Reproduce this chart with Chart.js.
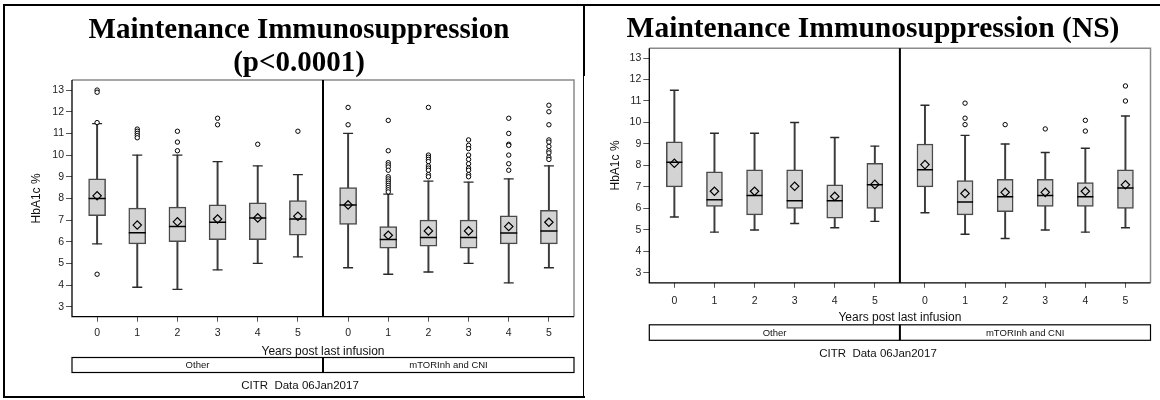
<!DOCTYPE html>
<html><head><meta charset="utf-8">
<script src="https://cdn.jsdelivr.net/npm/chart.js@4.4.1/dist/chart.umd.min.js"></script>
<style>
html,body{margin:0;padding:0;background:#fff;}
#wrap{position:relative;width:1160px;height:400px;overflow:hidden;background:#fff;}
#c1{position:absolute;left:0;top:0;}
#c2{position:absolute;left:587px;top:0;}
.ln{position:absolute;background:#000;}
</style></head><body>
<div id="wrap">
<canvas id="c1" width="584" height="400"></canvas>
<canvas id="c2" width="573" height="400"></canvas>
<div class="ln" style="left:3px;top:4px;width:1157px;height:2px"></div>
<div class="ln" style="left:3px;top:4px;width:2px;height:394px"></div>
<div class="ln" style="left:3px;top:396px;width:582px;height:2px"></div>
<div class="ln" style="left:583px;top:4px;width:2px;height:72px"></div>
<div class="ln" style="left:583px;top:76px;width:1px;height:322px"></div>
</div>
<script>
// ---------- data ----------
const years = ['0', '1', '2', '3', '4', '5'];
const treatments = ['Other', 'mTORInh and CNI'];
const yTickValues = [3, 4, 5, 6, 7, 8, 9, 10, 11, 12, 13];
const titleLeft = ['Maintenance Immunosuppression', '(p<0.0001)'];
const titleRight = ['Maintenance Immunosuppression (NS)'];
const xAxisLabel = 'Years post last infusion';
const yAxisLabel = 'HbA1c %';
const footnote = 'CITR  Data 06Jan2017';

// left panel: 6 x "Other" then 6 x "mTORInh and CNI"
const leftWhiskerLow  = [5.9, 3.9, 3.8, 4.7, 5.0, 5.3,   4.8, 4.5, 4.6, 5.0, 4.1, 4.8];
const leftQ1          = [7.2, 5.9, 6.0, 6.1, 6.1, 6.3,   6.8, 5.7, 5.8, 5.7, 5.9, 5.9];
const leftMedian      = [8.0, 6.42, 6.7, 6.9, 7.1, 7.05, 7.7, 6.1, 6.2, 6.2, 6.4, 6.5];
const leftQ3          = [8.9, 7.55, 7.6, 7.7, 7.8, 7.9,  8.5, 6.7, 7.0, 7.0, 7.2, 7.45];
const leftWhiskerHigh = [11.45, 10.0, 10.0, 9.7, 9.5, 9.1, 11.0, 8.2, 8.8, 8.75, 8.9, 9.5];
const leftMean        = [8.12, 6.77, 6.92, 7.05, 7.1, 7.18, 7.7, 6.3, 6.5, 6.5, 6.7, 6.9];
const leftOutliers = [
  [13.0, 12.9, 11.5, 4.5], [11.2, 11.1, 11.0, 10.9, 10.8], [11.1, 10.6, 10.2], [11.7, 11.4], [10.5], [11.1],
  [12.2, 11.4],
  [11.6, 10.2, 9.65, 9.55, 9.45, 9.3, 9.0, 8.9, 8.8, 8.7, 8.6, 8.5, 8.4, 8.3],
  [12.2, 10.0, 9.9, 9.8, 9.7, 9.5, 9.4, 9.3, 9.1, 9.0],
  [10.7, 10.45, 10.3, 10.0, 9.8, 9.6, 9.4, 9.3, 9.1, 9.0],
  [11.7, 11.0, 10.5, 10.45, 10.0, 9.6, 9.3],
  [12.3, 12.0, 11.4, 10.7, 10.6, 10.4, 10.2, 10.1, 9.9, 9.8]
];

// right panel
const rightWhiskerLow  = [5.6, 4.9, 5.0, 5.3, 5.1, 5.4,   5.8, 4.8, 4.6, 5.0, 4.9, 5.1];
const rightQ1          = [7.0, 6.1, 5.7, 6.0, 5.55, 6.0,  7.0, 5.7, 5.85, 6.1, 6.1, 6.0];
const rightMedian      = [8.15, 6.4, 6.6, 6.36, 6.36, 7.1, 7.8, 6.3, 6.55, 6.6, 6.55, 6.95];
const rightQ3          = [9.1, 7.7, 7.8, 7.8, 7.1, 8.1,   9.0, 7.3, 7.35, 7.35, 7.2, 7.8];
const rightWhiskerHigh = [11.5, 9.5, 9.5, 10.0, 9.3, 8.9, 10.8, 9.4, 9.0, 8.6, 8.8, 10.3];
const rightMean        = [8.1, 6.8, 6.8, 7.03, 6.56, 7.12, 8.04, 6.7, 6.75, 6.75, 6.8, 7.1];
const rightOutliers = [[], [], [], [], [], [], [], [10.9, 10.2, 9.9], [9.9], [9.7], [10.1, 9.6], [11.7, 11.0]];

// ---------- layout helpers ----------
const GROUP_STEP = 6.25;
const xPos = k => Math.floor(k / years.length) * GROUP_STEP + (k % years.length);
const DIVIDER = GROUP_STEP * 0.9;  // 5.625
const SANS = "'Liberation Sans', Arial, sans-serif";

const panelDecor = {
  id: 'panelDecor',
  beforeDatasetsDraw(chart, args, o) {
    const {ctx, chartArea: a} = chart;
    const dx = chart.scales.x.getPixelForValue(DIVIDER);
    ctx.save();
    ctx.lineWidth = 1.5; ctx.strokeStyle = '#8a8a8a';
    ctx.beginPath(); ctx.moveTo(a.left, a.top); ctx.lineTo(a.right, a.top); ctx.lineTo(a.right, a.bottom); ctx.stroke();
    ctx.strokeStyle = '#000'; ctx.lineWidth = 1.3;
    ctx.beginPath(); ctx.moveTo(a.left, a.top); ctx.lineTo(a.left, a.bottom); ctx.lineTo(a.right, a.bottom); ctx.stroke();
    ctx.lineWidth = 2;
    ctx.beginPath(); ctx.moveTo(dx, a.top); ctx.lineTo(dx, a.bottom); ctx.stroke();
    ctx.restore();
  },
  afterDraw(chart, args, o) {
    const {ctx, chartArea: a} = chart;
    const dx = chart.scales.x.getPixelForValue(DIVIDER);
    const y0 = a.bottom + o.stripTop;
    ctx.save();
    ctx.strokeStyle = '#000'; ctx.lineWidth = 1.2;
    ctx.strokeRect(a.left, y0, a.right - a.left, o.stripH);
    ctx.lineWidth = 2;
    ctx.beginPath(); ctx.moveTo(dx, y0); ctx.lineTo(dx, y0 + o.stripH); ctx.stroke();
    ctx.fillStyle = '#111';
    ctx.font = '9.5px ' + SANS; ctx.textAlign = 'center'; ctx.textBaseline = 'middle';
    ctx.fillText(treatments[0], (a.left + dx) / 2, y0 + o.stripH / 2 + 0.5);
    ctx.fillText(treatments[1], (dx + a.right) / 2, y0 + o.stripH / 2 + 0.5);
    ctx.font = '11.5px ' + SANS;
    ctx.fillText(footnote, o.footX, a.bottom + o.footY);
    ctx.restore();
  }
};

function makePanel(id, titleLines, d, g) {
  const n = d.q1.length;
  const idx = [...Array(n).keys()];
  const xs = idx.map(xPos);
  const outPts = [];
  idx.forEach(k => d.out[k].forEach(v => outPts.push({x: xs[k], y: v})));
  const datasets = [
    {type: 'bar', order: 6, grouped: false, barThickness: 1.3, backgroundColor: '#3c3c3c', borderWidth: 0,
     data: idx.map(k => ({x: xs[k], y: [d.wlo[k], d.whi[k]]}))},
    {type: 'bar', order: 5, grouped: false, barThickness: g.boxW, backgroundColor: '#d3d3d3',
     borderColor: '#4a4a4a', borderWidth: 1.5, borderSkipped: false,
     data: idx.map(k => ({x: xs[k], y: [d.q1[k], d.q3[k]]}))},
    {type: 'scatter', order: 4, pointStyle: 'line', pointRadius: g.capR, pointHoverRadius: g.capR,
     borderColor: '#2a2a2a', pointBorderWidth: 1.4, borderWidth: 1.4,
     data: idx.flatMap(k => [{x: xs[k], y: d.wlo[k]}, {x: xs[k], y: d.whi[k]}])},
    {type: 'scatter', order: 3, pointStyle: 'line', pointRadius: g.boxW / 2, pointHoverRadius: g.boxW / 2,
     borderColor: '#000', pointBorderWidth: 1.5, borderWidth: 1.5,
     data: idx.map(k => ({x: xs[k], y: d.med[k]}))},
    {type: 'scatter', order: 2, pointStyle: 'rectRot', pointRadius: 4.2, pointHoverRadius: 4.2,
     borderColor: '#000', backgroundColor: 'rgba(0,0,0,0)', pointBorderWidth: 1.2, borderWidth: 1.2,
     data: idx.map(k => ({x: xs[k], y: d.mean[k]}))},
    {type: 'scatter', order: 1, pointStyle: 'circle', pointRadius: 2.2, pointHoverRadius: 2.2,
     borderColor: '#000', backgroundColor: '#fff', pointBorderWidth: 1, borderWidth: 1,
     data: outPts}
  ];
  return new Chart(document.getElementById(id), {
    type: 'bar',
    data: {datasets},
    plugins: [panelDecor],
    options: {
      responsive: false, animation: false, events: [],
      layout: {padding: {left: g.padL, right: g.padR, top: 0, bottom: g.padB}},
      plugins: {
        legend: {display: false}, tooltip: {enabled: false},
        title: {display: true, text: titleLines, color: '#000',
          font: {family: "'Liberation Serif', 'Times New Roman', serif", size: g.titleSize, weight: 'bold', lineHeight: 1.14},
          padding: {top: g.titleTop, bottom: g.titleBottom}},
        panelDecor: {stripTop: g.stripTop, stripH: g.stripH, footX: g.footX, footY: g.footY}
      },
      scales: {
        x: {
          type: 'linear', min: -0.625, max: 11.875, offset: false,
          afterBuildTicks: s => { s.ticks = xs.map(v => ({value: v})); },
          afterFit: s => { s.height = g.xH; },
          border: {display: false},
          grid: {display: true, drawOnChartArea: false, drawTicks: true, tickLength: 5, color: '#555', offset: false},
          ticks: {autoSkip: false, maxRotation: 0, padding: g.xTickPad, color: '#222',
            font: {family: SANS, size: 10.5}, callback: (v, i) => years[i % years.length]},
          title: {display: true, text: xAxisLabel, color: '#111',
            font: {family: SANS, size: 12, lineHeight: 1.15}, padding: {top: 0, bottom: 0}}
        },
        y: {
          type: 'linear', min: 2.54, max: 13.46, beginAtZero: false,
          afterBuildTicks: s => { s.ticks = yTickValues.map(v => ({value: v})); },
          afterFit: s => { s.width = g.yW; },
          border: {display: false},
          grid: {display: true, drawOnChartArea: false, drawTicks: true, tickLength: 6, color: '#555'},
          ticks: {padding: 2, color: '#222', font: {family: SANS, size: 10.5}},
          title: {display: true, text: yAxisLabel, color: '#111',
            font: {family: SANS, size: 12, lineHeight: 1.2}, padding: {top: g.yTitlePad, bottom: 0}}
        }
      }
    }
  });
}

makePanel('c1', titleLeft,
  {wlo: leftWhiskerLow, q1: leftQ1, med: leftMedian, q3: leftQ3, whi: leftWhiskerHigh, mean: leftMean, out: leftOutliers},
  {padL: 21, padR: 7, padB: 41.5, yW: 51, xH: 41.8, yTitlePad: 8.8, titleSize: 29, titleTop: 13.5, titleBottom: 0.5,
   boxW: 17, capR: 5, xTickPad: 5, stripTop: 40.8, stripH: 15, footX: 300, footY: 69});

makePanel('c2', titleRight,
  {wlo: rightWhiskerLow, q1: rightQ1, med: rightMedian, q3: rightQ3, whi: rightWhiskerHigh, mean: rightMean, out: rightOutliers},
  {padL: 6.3, padR: 7.3, padB: 75.2, yW: 56, xH: 42, yTitlePad: 15.5, titleSize: 29.5, titleTop: 12.3, titleBottom: 2.2,
   boxW: 16, capR: 4.5, xTickPad: 7, stripTop: 42, stripH: 15.5, footX: 291, footY: 71});
</script>
</body></html>
